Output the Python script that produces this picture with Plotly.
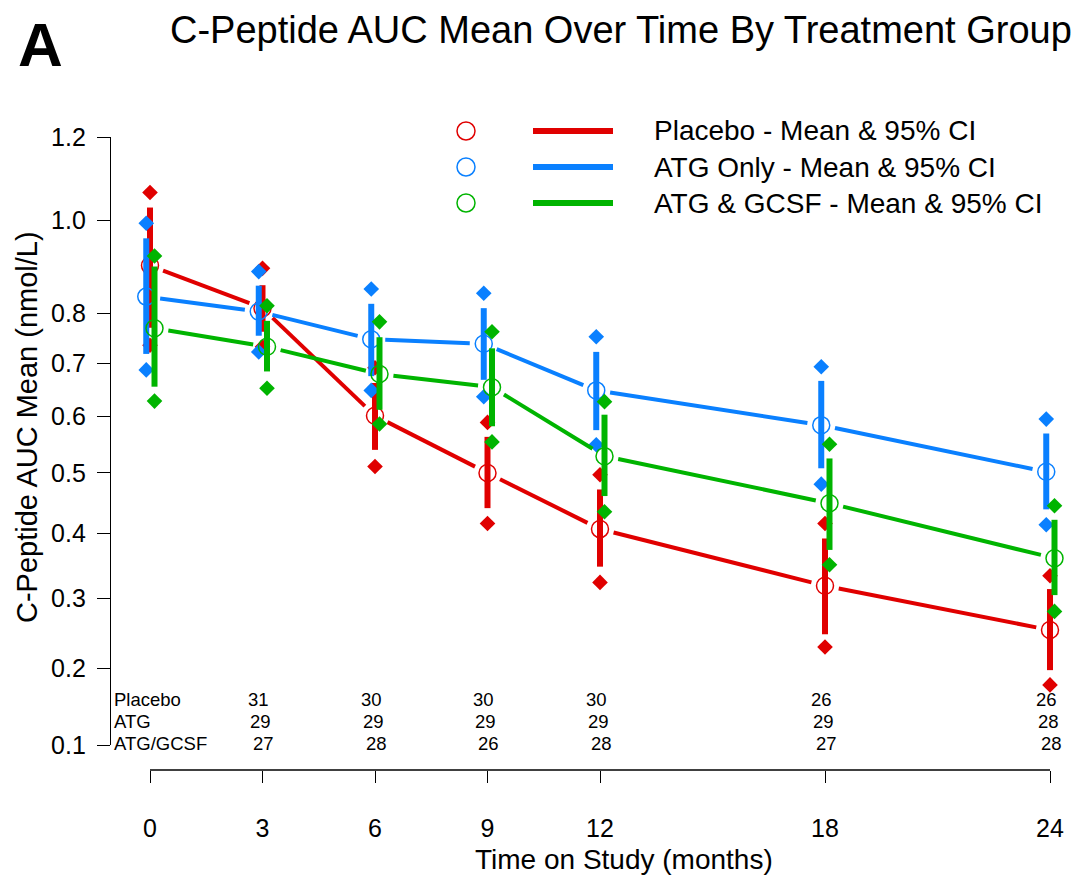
import math
import plotly.graph_objects as go

# ---------------- data ----------------
months = [0, 3, 6, 9, 12, 18, 24]
groups = ["Placebo", "ATG Only", "ATG & GCSF"]

placebo_mean = [0.900, 0.810, 0.601, 0.500, 0.407, 0.319, 0.254]
placebo_ci_lo = [0.770, 0.762, 0.540, 0.441, 0.348, 0.248, 0.198]
placebo_ci_hi = [1.030, 0.858, 0.662, 0.563, 0.472, 0.392, 0.314]
placebo_pt_lo = [0.735, 0.732, 0.511, 0.416, 0.324, 0.230, 0.178]
placebo_pt_hi = [1.065, 0.894, 0.691, 0.589, 0.497, 0.416, 0.334]

atg_mean = [0.834, 0.803, 0.747, 0.738, 0.648, 0.584, 0.502]
atg_ci_lo = [0.718, 0.754, 0.675, 0.668, 0.575, 0.508, 0.439]
atg_ci_hi = [0.960, 0.857, 0.819, 0.810, 0.722, 0.666, 0.569]
atg_pt_lo = [0.687, 0.722, 0.648, 0.636, 0.549, 0.481, 0.414]
atg_pt_hi = [0.994, 0.887, 0.850, 0.841, 0.752, 0.693, 0.595]

gcsf_mean = [0.769, 0.732, 0.679, 0.654, 0.529, 0.449, 0.361]
gcsf_ci_lo = [0.655, 0.684, 0.612, 0.582, 0.461, 0.374, 0.305]
gcsf_ci_hi = [0.898, 0.784, 0.751, 0.729, 0.603, 0.525, 0.422]
gcsf_pt_lo = [0.628, 0.652, 0.586, 0.554, 0.435, 0.351, 0.281]
gcsf_pt_hi = [0.921, 0.815, 0.782, 0.762, 0.627, 0.550, 0.445]

count_months = [3, 6, 9, 12, 18, 24]
count_labels = ["Placebo", "ATG", "ATG/GCSF"]
placebo_n = [31, 30, 30, 30, 26, 26]
atg_n = [29, 29, 29, 29, 29, 28]
gcsf_n = [27, 28, 26, 28, 27, 28]

y_tick_values = [0.1, 0.2, 0.3, 0.4, 0.5, 0.6, 0.7, 0.8, 1.0, 1.2]
y_tick_labels = ["0.1", "0.2", "0.3", "0.4", "0.5", "0.6", "0.7", "0.8", "1.0", "1.2"]
x_tick_labels = ["0", "3", "6", "9", "12", "18", "24"]

title_text = "C-Peptide AUC Mean Over Time By Treatment Group"
legend_texts = ["Placebo - Mean & 95% CI", "ATG Only - Mean & 95% CI", "ATG & GCSF - Mean & 95% CI"]

# ---------------- styling ----------------
OFFSET = 8  # page body margin
W, H = 1081 - OFFSET, 877 - OFFSET
RED, BLUE, GREEN = "#E00000", "#0A80FF", "#00B400"
FONT = "Liberation Sans, Arial, Helvetica, sans-serif"


def T(v):
    """axis scale: log(1 + value)"""
    return math.log(1.0 + v)


def PX(px):
    return (px - OFFSET) / W


def PY(py):
    return 1 - (py - OFFSET) / H


X_DOM = (110, 1075)
Y_DOM = (137, 745)
PX_PER_MONTH = 37.5
X0_PX = 150
x_range = [-(X0_PX - X_DOM[0]) / PX_PER_MONTH, (X_DOM[1] - X0_PX) / PX_PER_MONTH]
y_range = [T(0.1), T(1.2)]
PX_PER_Y = (Y_DOM[1] - Y_DOM[0]) / (y_range[1] - y_range[0])

fig = go.Figure()

series = [
    (placebo_mean, placebo_ci_lo, placebo_ci_hi, placebo_pt_lo, placebo_pt_hi, RED, 0.0),
    (atg_mean, atg_ci_lo, atg_ci_hi, atg_pt_lo, atg_pt_hi, BLUE, -0.1),
    (gcsf_mean, gcsf_ci_lo, gcsf_ci_hi, gcsf_pt_lo, gcsf_pt_hi, GREEN, 0.12),
]

GAP = 14  # px gap around the open circles (R type="b")

for name, (mean, lo, hi, plo, phi, col, off) in zip(groups, series):
    xs = [m + off for m in months]
    ys = [T(v) for v in mean]
    # connecting line segments with gaps around points
    lx, ly = [], []
    for i in range(len(xs) - 1):
        dx = (xs[i + 1] - xs[i]) * PX_PER_MONTH
        dy = (ys[i + 1] - ys[i]) * PX_PER_Y
        d = math.hypot(dx, dy)
        f = GAP / d if d > 0 else 0
        lx += [xs[i] + f * (xs[i + 1] - xs[i]), xs[i + 1] - f * (xs[i + 1] - xs[i]), None]
        ly += [ys[i] + f * (ys[i + 1] - ys[i]), ys[i + 1] - f * (ys[i + 1] - ys[i]), None]
    fig.add_trace(go.Scatter(x=lx, y=ly, mode="lines", line=dict(color=col, width=4),
                             hoverinfo="skip", name=name))
    # CI bars
    bx, by = [], []
    for x, a, b in zip(xs, lo, hi):
        bx += [x, x, None]
        by += [T(a), T(b), None]
    fig.add_trace(go.Scatter(x=bx, y=by, mode="lines", line=dict(color=col, width=6),
                             hoverinfo="skip", name=name))
    # mean circles
    fig.add_trace(go.Scatter(x=xs, y=ys, mode="markers", cliponaxis=False,
                             marker=dict(symbol="circle-open", size=17, color=col,
                                         line=dict(color=col, width=1.5)),
                             name=name))
    # diamonds
    fig.add_trace(go.Scatter(x=xs + xs, y=[T(v) for v in plo] + [T(v) for v in phi],
                             mode="markers", cliponaxis=False,
                             marker=dict(symbol="diamond", size=12, color=col, line=dict(width=0)),
                             name=name))

annotations = []
shapes = []

# x-axis line (R-style detached axis)
shapes.append(dict(type="line", xref="x", yref="paper", x0=months[0], x1=months[-1],
                   y0=PY(770), y1=PY(770), line=dict(color="black", width=1.3)))

# counts table
row_px = [699, 721, 743]
row_off = [-0.1, -0.05, 0.03]
for lab, ns, rp, ro in zip(count_labels, [placebo_n, atg_n, gcsf_n], row_px, row_off):
    annotations.append(dict(text=lab, xref="paper", yref="paper", x=PX(112), y=PY(rp),
                            xanchor="left", yanchor="middle", showarrow=False,
                            font=dict(size=18.5, color="black", family=FONT)))
    for m, n in zip(count_months, ns):
        annotations.append(dict(text=str(n), xref="x", yref="paper", x=m + ro, y=PY(rp),
                                xanchor="center", yanchor="middle", showarrow=False,
                                font=dict(size=18.5, color="black", family=FONT)))

# legend (drawn manually)
leg_rows = [131, 167, 203]
for txt, col, rp in zip(legend_texts, [RED, BLUE, GREEN], leg_rows):
    shapes.append(dict(type="circle", xref="paper", yref="paper",
                       x0=PX(466 - 9), x1=PX(466 + 9), y0=PY(rp + 9), y1=PY(rp - 9),
                       line=dict(color=col, width=1.5)))
    shapes.append(dict(type="line", xref="paper", yref="paper",
                       x0=PX(533), x1=PX(613), y0=PY(rp), y1=PY(rp),
                       line=dict(color=col, width=6)))
    annotations.append(dict(text=txt, xref="paper", yref="paper", x=PX(652), y=PY(rp),
                            xanchor="left", yanchor="middle", showarrow=False,
                            font=dict(size=28, color="black", family=FONT)))

# titles
annotations.append(dict(text=title_text, xref="paper", yref="paper", x=PX(621), y=PY(30),
                        xanchor="center", yanchor="middle", showarrow=False,
                        font=dict(size=38, color="black", family=FONT)))
annotations.append(dict(text="<b>A</b>", xref="paper", yref="paper", x=PX(40), y=PY(44),
                        xanchor="center", yanchor="middle", showarrow=False,
                        font=dict(size=62, color="black", family=FONT)))
annotations.append(dict(text="C-Peptide AUC Mean (nmol/L)", xref="paper", yref="paper",
                        x=PX(9), y=PY(427), textangle=-90, xanchor="left", yanchor="middle",
                        showarrow=False, font=dict(size=29, color="black", family=FONT)))
annotations.append(dict(text="Time on Study (months)", xref="paper", yref="paper",
                        x=PX(624), y=PY(859), xanchor="center", yanchor="middle",
                        showarrow=False, font=dict(size=28, color="black", family=FONT)))

fig.update_layout(
    width=W, height=H,
    margin=dict(l=0, r=0, t=0, b=0, pad=0),
    paper_bgcolor="white", plot_bgcolor="white",
    showlegend=False,
    font=dict(family=FONT, color="black"),
    xaxis=dict(domain=[PX(X_DOM[0]), PX(X_DOM[1])], range=x_range,
               anchor="free", position=PY(770), side="bottom",
               tickmode="array", tickvals=months, ticktext=x_tick_labels,
               ticks="outside", ticklen=12, tickwidth=1.3, tickcolor="black",
               showline=False, showgrid=False, zeroline=False,
               tickfont=dict(size=25, color="black", family=FONT),
               ticklabelstandoff=24, automargin=False),
    yaxis=dict(domain=[PY(Y_DOM[1]), PY(Y_DOM[0])], range=y_range,
               anchor="free", position=PX(110), side="left",
               tickmode="array", tickvals=[T(v) for v in y_tick_values], ticktext=y_tick_labels,
               ticks="outside", ticklen=13, tickwidth=1.3, tickcolor="black",
               showline=True, linecolor="black", linewidth=1.3,
               showgrid=False, zeroline=False,
               tickfont=dict(size=25, color="black", family=FONT),
               ticklabelstandoff=6, automargin=False),
    annotations=annotations,
    shapes=shapes,
)

fig.write_html("out.html")
